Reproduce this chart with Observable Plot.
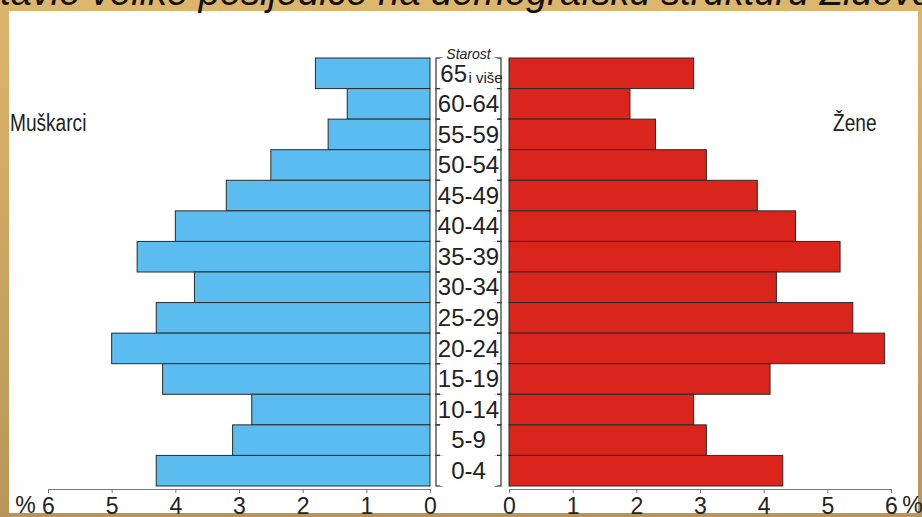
<!DOCTYPE html>
<html><head><meta charset="utf-8">
<script src="https://cdn.jsdelivr.net/npm/d3@7"></script>
<script src="https://cdn.jsdelivr.net/npm/@observablehq/plot@0.6"></script>
<style>
html,body{margin:0;padding:0;background:#fff;}
#stage{position:relative;width:922px;height:517px;overflow:hidden;background:linear-gradient(#dcb66c,#cfa962 40%,#b8955a);font-family:"Liberation Sans",Arial,sans-serif;}
#panel{position:absolute;left:9px;top:11px;width:909px;height:502px;background:#fff;}
#title{position:absolute;left:-50px;top:-27px;white-space:nowrap;font:italic 38px "Liberation Sans",Arial,sans-serif;line-height:38px;color:#111;}
.side{position:absolute;font-size:23px;line-height:23px;color:#222;white-space:nowrap;transform:scaleX(0.83);transform-origin:0 0;}
.plot{position:absolute;top:0;}
</style></head>
<body>
<div id="stage">
  <div id="panel"></div>
  <div id="title"><span id="pre">Holokaust je ostavio </span>velike posljedice na demografsku strukturu Židova</div>
  <div class="side" style="left:10px;top:112px;">Muškarci</div>
  <div class="side" style="left:833px;top:112px;">Žene</div>
  <div class="plot" id="left" style="left:0px;"></div>
  <div class="plot" id="mid" style="left:430px;"></div>
  <div class="plot" id="right" style="left:500px;"></div>
</div>
<script>
const ages = ["65+","60-64","55-59","50-54","45-49","40-44","35-39","30-34","25-29","20-24","15-19","10-14","5-9","0-4"];
const ageText = ["65","60-64","55-59","50-54","45-49","40-44","35-39","30-34","25-29","20-24","15-19","10-14","5-9","0-4"];
const ageSuffix = ["i više","","","","","","","","","","","","",""];
const male = [1.8,1.3,1.6,2.5,3.2,4.0,4.6,3.7,4.3,5.0,4.2,2.8,3.1,4.3];
const female = [2.9,1.9,2.3,3.1,3.9,4.5,5.2,4.2,5.4,5.9,4.1,2.9,3.1,4.3];
const xTicks = [0,1,2,3,4,5,6];
const axisTitle = "%";
const sideTitle = "Starost";

const FONT = '"Liberation Sans",Arial,sans-serif';
const H = 517, MT = 58, MB = 28;
const yScale = {domain: ages, padding: 0, round: false, insetBottom: 3, axis: null};
const baseStyle = {background: "transparent", fontFamily: FONT, fontSize: "23px", color: "#222", overflow: "visible"};

const maleData = ages.map((a, i) => ({age: a, v: male[i]}));
const femaleData = ages.map((a, i) => ({age: a, v: female[i]}));

function side(data, fill, reverse, width, ml, mr, pctX) {
  return Plot.plot({
    width, height: H, marginLeft: ml, marginRight: mr, marginTop: MT, marginBottom: MB,
    style: baseStyle,
    x: {domain: [0, 6], reverse, axis: null, round: false},
    y: yScale,
    marks: [
      Plot.barX(data, {x: "v", y: "age", fill, stroke: "#2a2a2a", strokeWidth: 1}),
      Plot.frame({anchor: "bottom", stroke: "#777"}),
      Plot.axisX({ticks: xTicks, tickFormat: d => String(d), tickSize: 4, tickPadding: 4, stroke: "#777", fill: "#222", label: null}),
      Plot.text([pctX], {x: d => d, text: () => axisTitle, frameAnchor: "bottom", lineAnchor: "top", dy: 7, fill: "#222"})
    ]
  });
}

document.getElementById("left").append(side(maleData, "#5bbdef", true, 436, 48, 6, 6.36));
document.getElementById("right").append(side(femaleData, "#da251d", false, 422, 9, 31, 6.33));

const rows = ages.map((a, i) => ({age: a, t: ageText[i], s: ageSuffix[i]}));
const mid = Plot.plot({
  width: 79, height: H, marginLeft: 0, marginRight: 0, marginTop: MT, marginBottom: MB,
  style: {...baseStyle, fontSize: "24px"},
  x: {domain: [0, 79], axis: null},
  y: yScale,
  marks: [
    Plot.barX(rows, {y: "age", x1: 6, x2: 12, fill: "none", stroke: "#333", strokeWidth: 1.2}),
    Plot.barX(rows, {y: "age", x1: 10, x2: 14, fill: "white"}),
    Plot.barX(rows, {y: "age", x1: 65, x2: 71, fill: "none", stroke: "#333", strokeWidth: 1.2}),
    Plot.barX(rows, {y: "age", x1: 62, x2: 67, fill: "white"}),
    Plot.text(rows.filter(d => !d.s), {y: "age", x: 38, text: "t", textAnchor: "middle", fill: "#222"}),
    Plot.text(rows.filter(d => d.s), {y: "age", x: 36.5, text: "t", textAnchor: "end", fill: "#222", dy: 1}),
    Plot.text(rows.filter(d => d.s), {y: "age", x: 38, text: "s", textAnchor: "start", fontSize: 15, dy: 4, fill: "#222"}),
    Plot.text([sideTitle], {x: 38, text: d => d, frameAnchor: "top", dy: -9, fontSize: 14, fontStyle: "italic", fill: "#222"})
  ]
});
document.getElementById("mid").append(mid);

const pre = document.getElementById("pre").getBoundingClientRect().width;
document.getElementById("title").style.left = (91 - pre) + "px";
</script>
</body></html>
